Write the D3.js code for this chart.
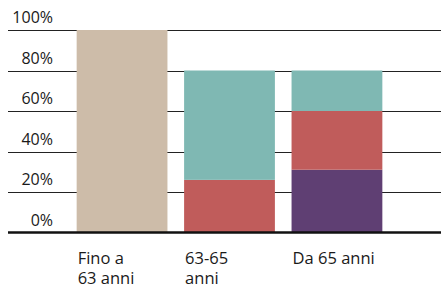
<!DOCTYPE html>
<html>
<head>
<meta charset="utf-8">
<script src="https://cdn.jsdelivr.net/npm/d3@7"></script>
<style>
  body { margin: 0; background: #fff; }
  svg text { font-family: "Open Sans", "Noto Sans", sans-serif; fill: #1a1a1a; }
</style>
</head>
<body>
<div id="chart"></div>
<script>
// dati del grafico
const categories = ["Fino a\n63 anni", "63-65\nanni", "Da 65 anni"];
const seriesNames = ["viola", "rosso", "verde", "beige"];
const viola = [0, 0, 31];
const rosso = [0, 26, 29];
const verde = [0, 54, 20];
const beige = [100, 0, 0];
const ticks = [0, 20, 40, 60, 80, 100];
const colors = ["#5f3f73", "#c05c5b", "#7fb8b3", "#cdbca9"];

const width = 441;
const height = 284;

const svg = d3.select("#chart").append("svg")
    .attr("width", width)
    .attr("height", height);

const x = d3.scaleBand()
    .domain(categories)
    .range([60, 399])
    .paddingInner(0.155)
    .paddingOuter(0.155);

const y = d3.scaleLinear()
    .domain([0, 100])
    .range([232.5, 30]);

// tabella per lo stack
const table = categories.map((c, i) => ({
    cat: c, viola: viola[i], rosso: rosso[i], verde: verde[i], beige: beige[i]
}));
const stacked = d3.stack().keys(seriesNames)(table);

// griglia
svg.append("g")
    .selectAll("line")
    .data(ticks.filter(t => t > 0))
    .enter().append("line")
    .attr("x1", 8).attr("x2", width)
    .attr("y1", d => Math.round(y(d)) + 0.5)
    .attr("y2", d => Math.round(y(d)) + 0.5)
    .attr("stroke", "#222")
    .attr("stroke-width", 1);

// barre
svg.append("g")
    .selectAll("g")
    .data(stacked)
    .enter().append("g")
    .attr("fill", (d, i) => colors[i])
    .selectAll("rect")
    .data(d => d)
    .enter().append("rect")
    .attr("x", d => x(d.data.cat))
    .attr("width", x.bandwidth())
    .attr("y", d => y(d[1]))
    .attr("height", d => y(d[0]) - y(d[1]));

// linea dello zero
svg.append("line")
    .attr("x1", 8).attr("x2", width)
    .attr("y1", y(0)).attr("y2", y(0))
    .attr("stroke", "#111")
    .attr("stroke-width", 2.5);

// etichette asse y
svg.append("g")
    .selectAll("text")
    .data(ticks)
    .enter().append("text")
    .attr("x", 53)
    .attr("y", d => y(d) - 7)
    .attr("text-anchor", "end")
    .attr("font-size", 16)
    .text(d => d + "%");

// etichette categorie
const labels = svg.append("g")
    .selectAll("text")
    .data(categories)
    .enter().append("text")
    .attr("x", d => x(d) + 1)
    .attr("y", 263.5)
    .attr("font-size", 16.5);

labels.selectAll("tspan")
    .data(d => d.split("\n").map(t => ({t, x: x(d) + 1})))
    .enter().append("tspan")
    .attr("x", d => d.x)
    .attr("dy", (d, i) => i === 0 ? 0 : 20)
    .text(d => d.t);
</script>
</body>
</html>
